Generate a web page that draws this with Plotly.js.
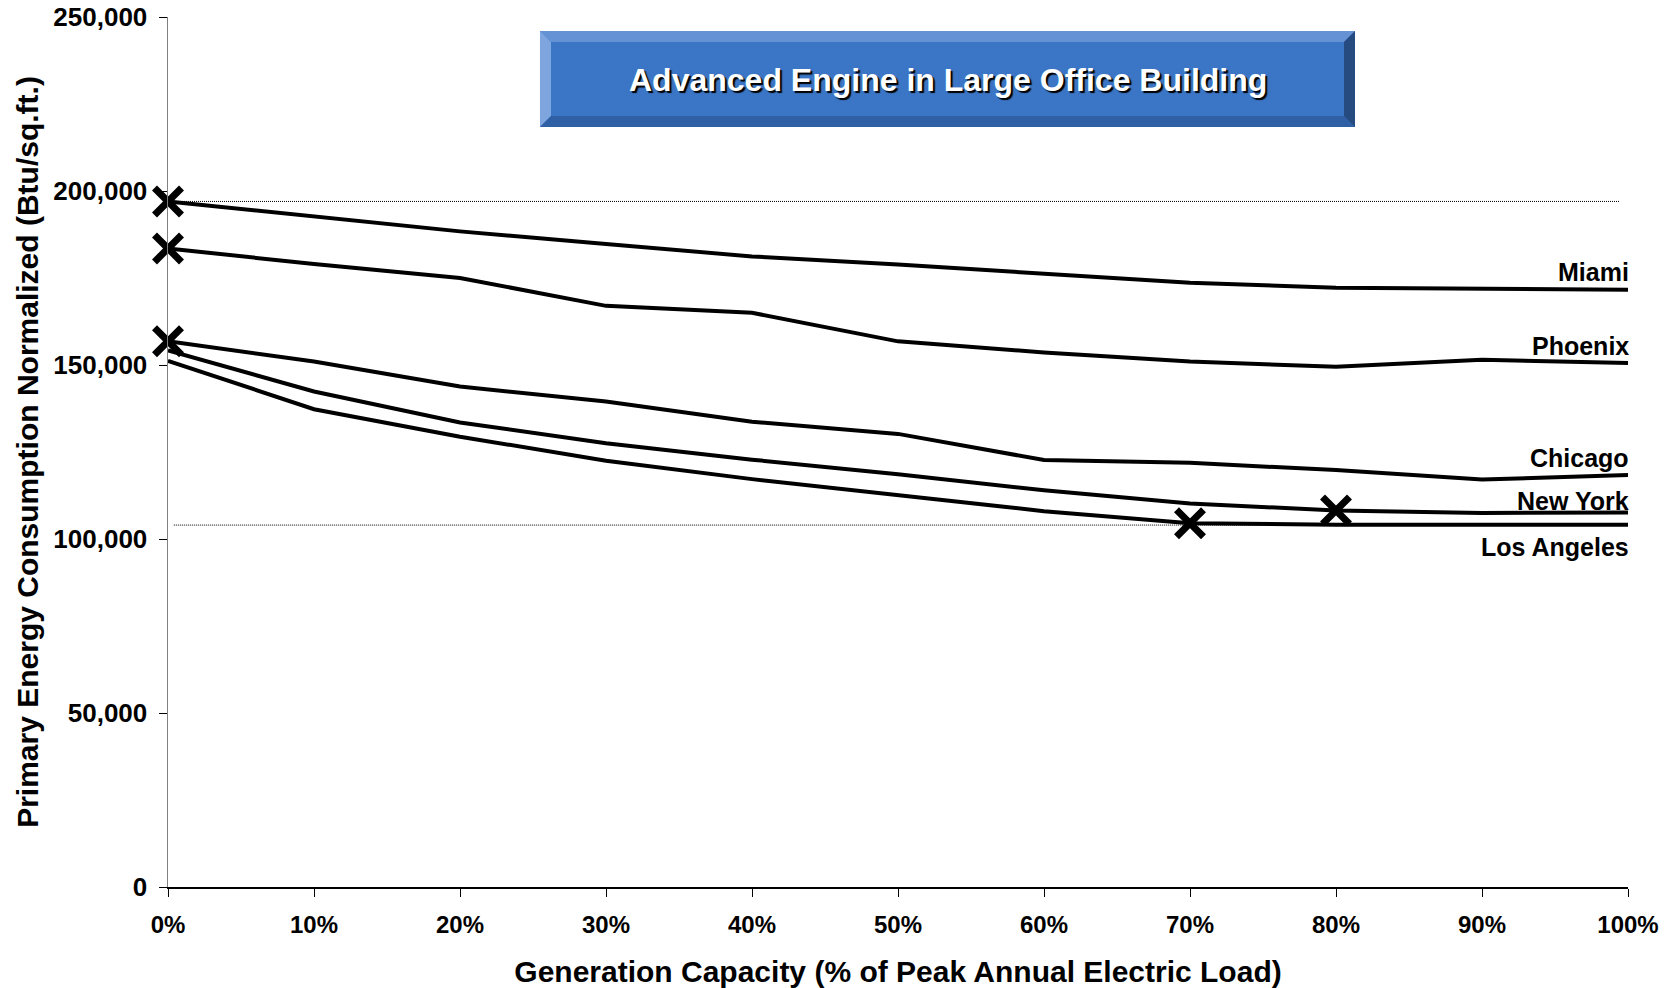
<!DOCTYPE html>
<html>
<head>
<meta charset="utf-8">
<script src="https://cdn.plot.ly/plotly-3.0.1.min.js"></script>
<style>html,body{margin:0;padding:0;background:#fff;}</style>
</head>
<body>
<div id="chart" style="width:1673px;height:988px;"></div>
<script>
// ---- data ----
const capacityPct = [0, 10, 20, 30, 40, 50, 60, 70, 80, 90, 100];
const capacityLabels = ["0%", "10%", "20%", "30%", "40%", "50%", "60%", "70%", "80%", "90%", "100%"];
const cities = ["Miami", "Phoenix", "Chicago", "New York", "Los Angeles"];
const miami      = [197000, 192700, 188400, 184800, 181200, 178900, 176200, 173600, 172200, 171800, 171600];
const phoenix    = [183500, 179000, 175000, 167000, 165000, 156800, 153600, 151000, 149500, 151500, 150600];
const chicago    = [156800, 151000, 143800, 139500, 133700, 130200, 122700, 121900, 119800, 117100, 118400];
const newYork    = [154200, 142400, 133500, 127500, 122800, 118600, 114000, 110200, 108200, 107500, 107600];
const losAngeles = [151200, 137300, 129400, 122500, 117200, 112600, 108000, 104500, 104100, 104100, 104100];
const optimumPct = [0, 0, 0, 80, 70];          // "X" marks: best capacity per city
const referenceLevels = [197000, 104000];     // dotted reference lines
const referenceSpan = [[0, 99.4], [0.4, 99.4]];
const chartTitle = "Advanced Engine in Large Office Building";
const xTitle = "Generation Capacity (% of Peak Annual Electric Load)";
const yTitle = "Primary Energy Consumption Normalized (Btu/sq.ft.)";

const series = [miami, phoenix, chicago, newYork, losAngeles];

// ---- styling ----
const FONT = '"Liberation Sans", Arial, Helvetica, sans-serif';
const L = 168, T = 17, W = 1460, H = 870;
const px = x => (x - L) / W;
const py = y => (T + H - y) / H;
const labelShift = [18, 17, 17, 12, -22];

const traces = [];
referenceLevels.forEach((lvl, i) => {
  traces.push({
    x: referenceSpan[i], y: [lvl, lvl], mode: 'lines', type: 'scatter',
    line: {color: '#000', width: 1, dash: '1px,1px'}, hoverinfo: 'skip', cliponaxis: false
  });
});
series.forEach((s, i) => {
  traces.push({
    x: capacityPct, y: s, name: cities[i], mode: 'lines', type: 'scatter',
    line: {color: '#000', width: 4, shape: 'linear'}, cliponaxis: false
  });
});
// "X" marks at each city's optimum capacity
const xMarks = [], yMarks = [];
series.forEach((s, i) => {
  const idx = capacityPct.indexOf(optimumPct[i]);
  xMarks.push(optimumPct[i]);
  yMarks.push(s[idx]);
});
traces.push({
  x: xMarks, y: yMarks, mode: 'markers', type: 'scatter', cliponaxis: false, hoverinfo: 'skip',
  marker: {symbol: 'x-thin', size: 27, color: '#000', line: {color: '#000', width: 7}}
});

// Bevelled title box
const bx1 = 540, bx2 = 1355, by1 = 31, by2 = 127, bv = 11;
function poly(pts, color) {
  const d = pts.map((p, k) => (k ? 'L' : 'M') + px(p[0]).toFixed(5) + ',' + py(p[1]).toFixed(5)).join(' ') + ' Z';
  return {type: 'path', xref: 'paper', yref: 'paper', path: d, fillcolor: color, line: {width: 0}, layer: 'above'};
}
const shapes = [
  poly([[bx1, by1], [bx2, by1], [bx2, by2], [bx1, by2]], '#3b75c5'),
  poly([[bx1, by1], [bx2, by1], [bx2 - bv, by1 + bv], [bx1 + bv, by1 + bv]], '#6592d4'),
  poly([[bx1, by1], [bx1 + bv, by1 + bv], [bx1 + bv, by2 - bv], [bx1, by2]], '#7ea5dd'),
  poly([[bx1, by2], [bx1 + bv, by2 - bv], [bx2 - bv, by2 - bv], [bx2, by2]], '#2f5fa5'),
  poly([[bx2, by1], [bx2, by2], [bx2 - bv, by2 - bv], [bx2 - bv, by1 + bv]], '#254b80')
];

const annotations = [{
  xref: 'paper', yref: 'paper', x: px((bx1 + bx2) / 2), y: py(80), text: chartTitle,
  showarrow: false, xanchor: 'center', yanchor: 'middle',
  font: {family: FONT, size: 32, weight: 'bold', color: '#fff', shadow: '2px 2px 1px #000'}
}];
series.forEach((s, i) => {
  annotations.push({
    x: capacityPct[capacityPct.length - 1], y: s[s.length - 1], text: cities[i],
    showarrow: false, xanchor: 'right', yanchor: 'middle', yshift: labelShift[i], xshift: 3,
    font: {family: FONT, size: 25, weight: 'bold', color: '#000'}
  });
});

const layout = {
  width: 1673, height: 988,
  margin: {l: L, r: 1673 - L - W, t: T, b: 988 - T - H, pad: 0},
  paper_bgcolor: '#fff', plot_bgcolor: '#fff', showlegend: false,
  font: {family: FONT, color: '#000'},
  xaxis: {
    range: [0, 100], tickvals: capacityPct, ticktext: capacityLabels,
    ticks: 'outside', ticklen: 8, tickwidth: 1, tickcolor: '#000',
    showline: true, linecolor: '#000', linewidth: 1.5, showgrid: false, zeroline: false,
    tickfont: {family: FONT, size: 24, weight: 'bold', color: '#000'}, ticklabelstandoff: 8,
    title: {text: xTitle, font: {family: FONT, size: 30, weight: 'bold', color: '#000'}, standoff: 28}
  },
  yaxis: {
    range: [0, 250000], tick0: 0, dtick: 50000, tickformat: ',d',
    ticks: 'outside', ticklen: 8, tickwidth: 1, tickcolor: '#000',
    showline: true, linecolor: '#808080', linewidth: 1.5, showgrid: false, zeroline: false,
    tickfont: {family: FONT, size: 26, weight: 'bold', color: '#000'}, ticklabelstandoff: 6,
    title: {text: yTitle, font: {family: FONT, size: 30, weight: 'bold', color: '#000'}, standoff: 6}
  },
  shapes: shapes,
  annotations: annotations
};

Plotly.newPlot('chart', traces, layout, {displayModeBar: false, staticPlot: true});
</script>
</body>
</html>
